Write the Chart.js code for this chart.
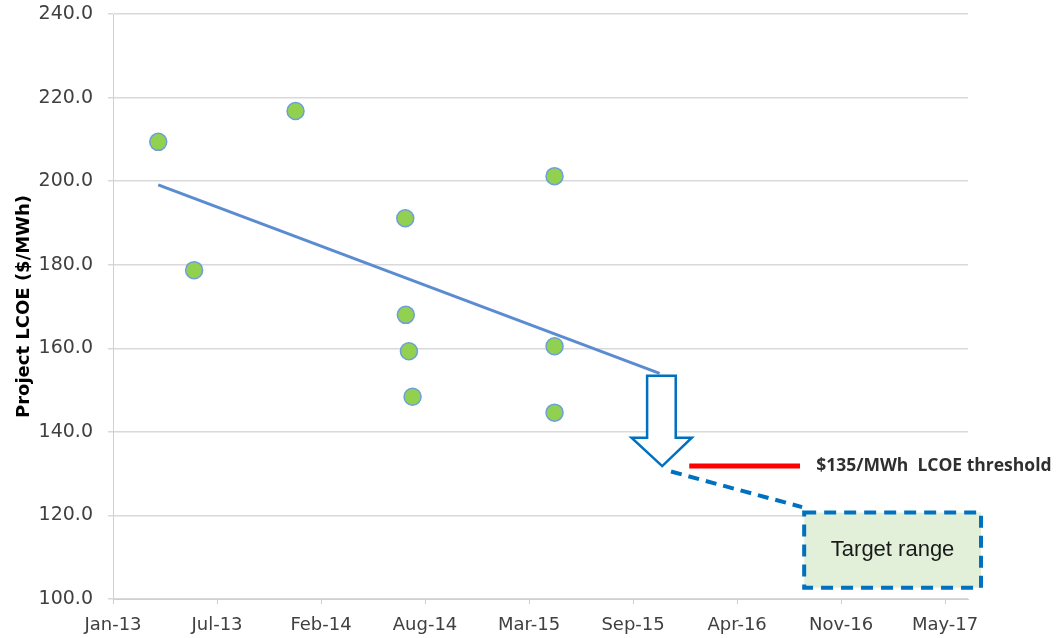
<!DOCTYPE html>
<html>
<head>
<meta charset="utf-8">
<script src="https://cdn.jsdelivr.net/npm/chart.js@4.4.1/dist/chart.umd.min.js"></script>
<style>
  html, body { margin: 0; padding: 0; background: #ffffff; }
  #wrap { width: 1059px; height: 638px; }
</style>
</head>
<body>
<div id="wrap"><canvas id="lcoeChart" width="1059" height="638"></canvas></div>
<script>
// x values are days counted from 1 Jan 2013
const tickDays = [0, 200, 400, 600, 800, 1000, 1200, 1400, 1600];
const tickLabels = ['Jan-13', 'Jul-13', 'Feb-14', 'Aug-14', 'Mar-15', 'Sep-15', 'Apr-16', 'Nov-16', 'May-17'];
const yTicks = [100, 120, 140, 160, 180, 200, 220, 240];

const projectDays = [87, 156, 351, 562, 563, 569, 576, 849, 849, 849];
const projectLcoe = [209.4, 178.7, 216.8, 191.1, 168.0, 159.3, 148.4, 201.2, 160.5, 144.6];

const trendDays = [87, 1051];
const trendLcoe = [199.1, 154.0];

// annotation shapes, in data units (days, $/MWh)
const arrowShape = { shaftLeft: 1027, shaftRight: 1082, top: 153.4, neck: 138.6, headLeft: 997, headRight: 1113, tipX: 1056, tipY: 131.8 };
const thresholdLine = { from: 1108, to: 1321, value: 131.8, label: '$135/MWh  LCOE threshold', labelAt: 1352 };
const connector = { x1: 1073, y1: 130.5, x2: 1325, y2: 122.0 };
const targetBox = { left: 1329, right: 1669, top: 120.7, bottom: 102.7, label: 'Target range' };

const annotations = {
    id: 'annotations',
    afterDraw(chart) {
        const ctx = chart.ctx;
        const xs = chart.scales.x, ys = chart.scales.y;
        const px = d => xs.getPixelForValue(d);
        const py = v => ys.getPixelForValue(v);
        ctx.save();

        // hollow down arrow
        const a = arrowShape;
        ctx.beginPath();
        ctx.moveTo(px(a.shaftLeft), py(a.top));
        ctx.lineTo(px(a.shaftRight), py(a.top));
        ctx.lineTo(px(a.shaftRight), py(a.neck));
        ctx.lineTo(px(a.headRight), py(a.neck));
        ctx.lineTo(px(a.tipX), py(a.tipY));
        ctx.lineTo(px(a.headLeft), py(a.neck));
        ctx.lineTo(px(a.shaftLeft), py(a.neck));
        ctx.closePath();
        ctx.fillStyle = '#ffffff';
        ctx.fill();
        ctx.strokeStyle = '#0070C0';
        ctx.lineWidth = 2.5;
        ctx.lineJoin = 'miter';
        ctx.stroke();

        // threshold
        ctx.beginPath();
        ctx.moveTo(px(thresholdLine.from), py(thresholdLine.value));
        ctx.lineTo(px(thresholdLine.to), py(thresholdLine.value));
        ctx.strokeStyle = '#FF0000';
        ctx.lineWidth = 5;
        ctx.stroke();
        ctx.font = 'bold 17.5px "Open Sans"';
        ctx.fillStyle = '#2f2f2f';
        ctx.textBaseline = 'middle';
        ctx.textAlign = 'left';
        ctx.fillText(thresholdLine.label, px(thresholdLine.labelAt), py(thresholdLine.value));

        // dashed connector
        ctx.beginPath();
        ctx.setLineDash([11, 7]);
        ctx.moveTo(px(connector.x1), py(connector.y1));
        ctx.lineTo(px(connector.x2), py(connector.y2));
        ctx.strokeStyle = '#0070C0';
        ctx.lineWidth = 4;
        ctx.stroke();

        // target box
        const b = targetBox;
        const bx = px(b.left), by = py(b.top);
        const bw = px(b.right) - bx, bh = py(b.bottom) - by;
        ctx.fillStyle = '#E2F0D9';
        ctx.fillRect(bx, by, bw, bh);
        ctx.setLineDash([12, 8]);
        ctx.strokeRect(bx, by, bw, bh);
        ctx.setLineDash([]);
        ctx.font = '22px "Liberation Sans"';
        ctx.fillStyle = '#1a1a1a';
        ctx.textAlign = 'center';
        ctx.fillText(b.label, bx + bw / 2, by + bh / 2);

        ctx.restore();
    }
};

new Chart(document.getElementById('lcoeChart'), {
    type: 'scatter',
    data: {
        datasets: [
            {
                label: 'Projects',
                data: projectDays.map((d, i) => ({ x: d, y: projectLcoe[i] })),
                backgroundColor: '#92D050',
                borderColor: '#6F9FD8',
                borderWidth: 1.5,
                pointRadius: 8.5,
                order: 1
            },
            {
                label: 'Trend',
                type: 'line',
                data: trendDays.map((d, i) => ({ x: d, y: trendLcoe[i] })),
                borderColor: '#5B8BD0',
                borderWidth: 3,
                pointRadius: 0,
                fill: false,
                order: 2
            }
        ]
    },
    options: {
        responsive: false,
        animation: false,
        layout: { padding: { left: 0, right: 91, top: 14, bottom: 0 } },
        scales: {
            x: {
                type: 'linear',
                min: 0,
                max: 1644,
                afterBuildTicks: axis => { axis.ticks = tickDays.map(v => ({ value: v })); },
                afterFit: axis => { axis.height = 39; axis.paddingLeft = 0; axis.paddingRight = 0; },
                ticks: {
                    autoSkip: false,
                    maxRotation: 0,
                    padding: 11,
                    color: '#404040',
                    font: { family: 'DejaVu Sans', size: 18 },
                    callback: value => tickLabels[tickDays.indexOf(value)]
                },
                grid: { drawOnChartArea: false, drawTicks: true, tickLength: 5, color: '#D0D0D0' },
                border: { color: '#D0D0D0', width: 1 }
            },
            y: {
                min: 100,
                max: 240,
                afterBuildTicks: axis => { axis.ticks = yTicks.map(v => ({ value: v })); },
                afterFit: axis => { axis.width = 113; axis.paddingTop = 0; axis.paddingBottom = 0; },
                ticks: {
                    padding: 15,
                    color: '#404040',
                    font: { family: 'DejaVu Sans', size: 19 },
                    callback: value => value.toFixed(1)
                },
                grid: { color: '#D9D9D9', lineWidth: 1.5, tickLength: 5 },
                border: { color: '#D0D0D0', width: 1 },
                title: {
                    display: true,
                    text: 'Project LCOE ($/MWh)',
                    color: '#000000',
                    font: { family: 'DejaVu Sans', size: 18, weight: 'bold' },
                    padding: { top: 14, bottom: 0 }
                }
            }
        },
        plugins: {
            legend: { display: false },
            tooltip: { enabled: false }
        }
    },
    plugins: [annotations]
});
</script>
</body>
</html>
